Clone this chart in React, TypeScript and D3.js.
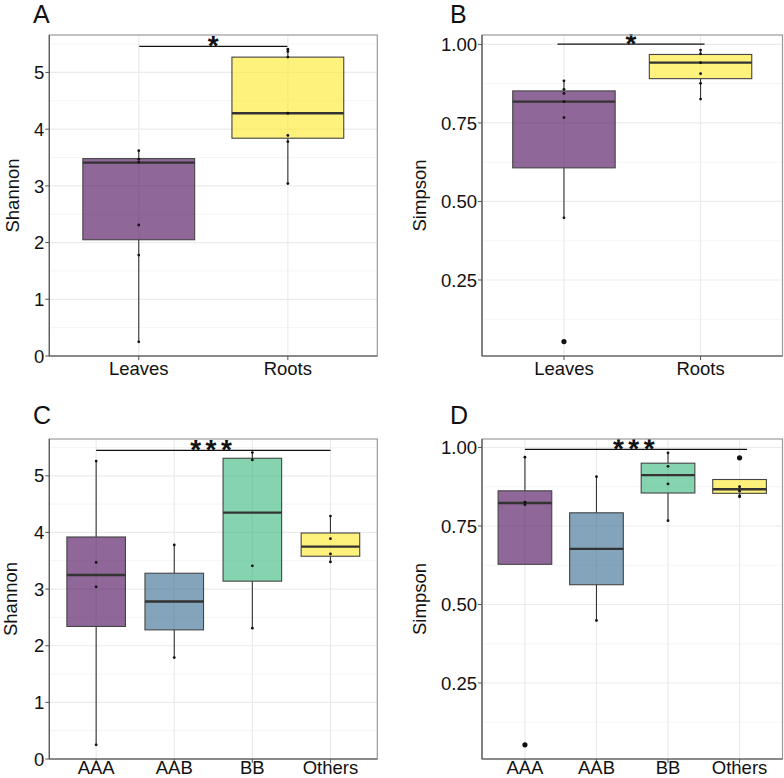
import React from "react";
import * as d3 from "d3";

// ---------- Data ----------
const tissueCats = ["Leaves", "Roots"];
const genomeCats = ["AAA", "AAB", "BB", "Others"];

// Panel A: Shannon by tissue  [q1, median, q3, whiskerLow, whiskerHigh]
const shannonTissueStats = [
  [2.05, 3.41, 3.48, 0.25, 3.62],
  [3.84, 4.28, 5.27, 3.04, 5.41],
];
const shannonTissuePoints = [
  [3.62, 3.47, 3.42, 2.31, 1.78, 0.25],
  [5.41, 5.37, 5.27, 4.28, 3.89, 3.78, 3.04],
];
const shannonTissueOutliers: number[][] = [[], []];

// Panel B: Simpson by tissue
const simpsonTissueStats = [
  [0.607, 0.818, 0.852, 0.448, 0.886],
  [0.891, 0.942, 0.968, 0.826, 0.982],
];
const simpsonTissuePoints = [
  [0.884, 0.857, 0.844, 0.818, 0.767, 0.448],
  [0.982, 0.97, 0.942, 0.907, 0.876, 0.826],
];
const simpsonTissueOutliers = [[0.054], []];

// Panel C: Shannon by genome group
const shannonGenomeStats = [
  [2.34, 3.25, 3.92, 0.25, 5.26],
  [2.28, 2.78, 3.28, 1.79, 3.78],
  [3.14, 4.35, 5.31, 2.31, 5.41],
  [3.58, 3.75, 3.99, 3.48, 4.29],
];
const shannonGenomePoints = [
  [5.26, 3.47, 3.04, 0.25],
  [3.78, 1.79],
  [5.41, 5.28, 3.41, 2.31],
  [4.29, 3.89, 3.62, 3.48],
];
const shannonGenomeOutliers: number[][] = [[], [], [], []];

// Panel D: Simpson by genome group
const simpsonGenomeStats = [
  [0.628, 0.823, 0.862, 0.628, 0.969],
  [0.563, 0.677, 0.792, 0.449, 0.907],
  [0.855, 0.912, 0.95, 0.767, 0.983],
  [0.854, 0.867, 0.898, 0.843, 0.898],
];
const simpsonGenomePoints = [
  [0.969, 0.826, 0.818],
  [0.907, 0.449],
  [0.983, 0.94, 0.884, 0.767],
  [0.875, 0.861, 0.846, 0.843],
];
const simpsonGenomeOutliers = [[0.053], [], [], [0.967]];

const shannonTicks = [0, 1, 2, 3, 4, 5];
const shannonMinor = [0.5, 1.5, 2.5, 3.5, 4.5, 5.5];
const simpsonTicks = [0.25, 0.5, 0.75, 1.0];
const simpsonMinor = [0.125, 0.375, 0.625, 0.875];

const colors2 = ["#440154", "#FDE725"];
const colors4 = ["#440154", "#31688E", "#35B779", "#FDE725"];

const FONT = "'Liberation Sans', Arial, Helvetica, sans-serif";

type PanelProps = {
  label: string;
  labelX: number;
  labelY: number;
  x0: number;
  x1: number;
  y0: number;
  y1: number;
  domain: [number, number];
  cats: string[];
  stats: number[][];
  points: number[][];
  outliers: number[][];
  colors: string[];
  ticks: number[];
  minor: number[];
  tickFmt: (v: number) => string;
  yTitle: string;
  titleX: number;
  xLabelDy: number;
  sig: { from: number; to: number; y: number; text: string; offL: number; offR: number };
};

function Panel(p: PanelProps) {
  const x = d3.scalePoint<string>().domain(p.cats).range([p.x0, p.x1]).padding(0.6);
  const y = d3.scaleLinear().domain(p.domain).range([p.y1, p.y0]);
  const step = x.step();
  const bw = step * 0.75;
  const gridC = "#ebebeb";
  const sigX1 = (x(p.cats[p.sig.from]) as number) + p.sig.offL;
  const sigX2 = (x(p.cats[p.sig.to]) as number) + p.sig.offR;
  return (
    <g>
      <rect x={p.x0} y={p.y0} width={p.x1 - p.x0} height={p.y1 - p.y0} fill="#fff" />
      {p.minor.map((v) => (
        <line key={"mi" + v} x1={p.x0} x2={p.x1} y1={y(v)} y2={y(v)} stroke="#f3f3f3" strokeWidth={0.8} />
      ))}
      {p.ticks.map((v) => (
        <line key={"ma" + v} x1={p.x0} x2={p.x1} y1={y(v)} y2={y(v)} stroke={gridC} strokeWidth={1.2} />
      ))}
      {p.cats.map((c) => (
        <line key={"vx" + c} x1={x(c)} x2={x(c)} y1={p.y0} y2={p.y1} stroke={gridC} strokeWidth={1.2} />
      ))}
      {p.cats.map((c, i) => {
        const cx = x(c) as number;
        const [q1, med, q3, lo, hi] = p.stats[i];
        return (
          <g key={"b" + c}>
            <line x1={cx} x2={cx} y1={y(q3)} y2={y(hi)} stroke="#333" strokeWidth={1.1} />
            <line x1={cx} x2={cx} y1={y(q1)} y2={y(lo)} stroke="#333" strokeWidth={1.1} />
            <rect
              x={cx - bw / 2}
              y={y(q3)}
              width={bw}
              height={y(q1) - y(q3)}
              fill={p.colors[i]}
              fillOpacity={0.6}
              stroke="#444"
              strokeWidth={1.1}
            />
            <line x1={cx - bw / 2} x2={cx + bw / 2} y1={y(med)} y2={y(med)} stroke="#333" strokeWidth={2.4} />
            {p.points[i].map((v, j) => (
              <circle key={"p" + j} cx={cx} cy={y(v)} r={1.4} fill="#111" />
            ))}
            {p.outliers[i].map((v, j) => (
              <circle key={"o" + j} cx={cx} cy={y(v)} r={2.6} fill="#111" />
            ))}
          </g>
        );
      })}
      <line x1={sigX1} x2={sigX2} y1={y(p.sig.y)} y2={y(p.sig.y)} stroke="#111" strokeWidth={1.2} />
      <text
        x={(sigX1 + sigX2) / 2}
        y={y(p.sig.y) + 8.5}
        textAnchor="middle"
        fontFamily={FONT}
        fontWeight="bold"
        fontSize={28}
        letterSpacing={p.sig.text.length > 1 ? 4.5 : 0}
        fill="#111"
      >
        {p.sig.text}
      </text>
      {/* panel border */}
      <rect x={p.x0} y={p.y0} width={p.x1 - p.x0} height={p.y1 - p.y0} fill="none" stroke="#9a9a9a" strokeWidth={1.2} />
      <line x1={p.x0} x2={p.x0} y1={p.y0} y2={p.y1} stroke="#555" strokeWidth={1.2} />
      <line x1={p.x0} x2={p.x1} y1={p.y1} y2={p.y1} stroke="#555" strokeWidth={1.2} />
      {/* y ticks */}
      {p.ticks.map((v) => (
        <g key={"yt" + v}>
          <line x1={p.x0 - 4} x2={p.x0} y1={y(v)} y2={y(v)} stroke="#555" strokeWidth={1} />
          <text x={p.x0 - 5} y={y(v)} dy="0.36em" textAnchor="end" fontFamily={FONT} fontSize={18.5} fill="#111">
            {p.tickFmt(v)}
          </text>
        </g>
      ))}
      {/* x ticks */}
      {p.cats.map((c) => (
        <g key={"xt" + c}>
          <line x1={x(c)} x2={x(c)} y1={p.y1} y2={p.y1 + 4} stroke="#555" strokeWidth={1} />
          <text x={x(c)} y={p.y1 + p.xLabelDy} textAnchor="middle" fontFamily={FONT} fontSize={18.5} fill="#111">
            {c}
          </text>
        </g>
      ))}
      <text
        transform={`translate(${p.titleX},${(p.y0 + p.y1) / 2}) rotate(-90)`}
        textAnchor="middle"
        dy="0.36em"
        fontFamily={FONT}
        fontSize={18.5}
        fill="#111"
      >
        {p.yTitle}
      </text>
      <text x={p.labelX} y={p.labelY} fontFamily={FONT} fontSize={25} fill="#111">
        {p.label}
      </text>
    </g>
  );
}

export default function App() {
  return (
    <svg
      width={784}
      height={778}
      style={{ position: "absolute", left: 0, top: 0, background: "#fff" }}
    >
      <rect width={784} height={778} fill="#fff" />
      <Panel
        label="A"
        labelX={33}
        labelY={22.5}
        x0={49.3}
        x1={377.3}
        y0={35}
        y1={356}
        domain={[0, 5.66]}
        cats={tissueCats}
        stats={shannonTissueStats}
        points={shannonTissuePoints}
        outliers={shannonTissueOutliers}
        colors={colors2}
        ticks={shannonTicks}
        minor={shannonMinor}
        tickFmt={(v) => String(v)}
        yTitle="Shannon"
        titleX={12.5}
        xLabelDy={18.5}
        sig={{ from: 0, to: 1, y: 5.46, text: "*", offL: 0.5, offR: -0.5 }}
      />
      <Panel
        label="B"
        labelX={450}
        labelY={22.5}
        x0={482}
        x1={782.5}
        y0={35}
        y1={356}
        domain={[0.008, 1.03]}
        cats={tissueCats}
        stats={simpsonTissueStats}
        points={simpsonTissuePoints}
        outliers={simpsonTissueOutliers}
        colors={colors2}
        ticks={simpsonTicks}
        minor={simpsonMinor}
        tickFmt={(v) => d3.format(".2f")(v)}
        yTitle="Simpson"
        titleX={419.5}
        xLabelDy={18.5}
        sig={{ from: 0, to: 1, y: 1.001, text: "*", offL: -6.5, offR: 4 }}
      />
      <Panel
        label="C"
        labelX={33}
        labelY={424}
        x0={49.3}
        x1={377.3}
        y0={439}
        y1={759}
        domain={[0, 5.65]}
        cats={genomeCats}
        stats={shannonGenomeStats}
        points={shannonGenomePoints}
        outliers={shannonGenomeOutliers}
        colors={colors4}
        ticks={shannonTicks}
        minor={shannonMinor}
        tickFmt={(v) => String(v)}
        yTitle="Shannon"
        titleX={10}
        xLabelDy={15}
        sig={{ from: 0, to: 3, y: 5.45, text: "***", offL: 0, offR: 0 }}
      />
      <Panel
        label="D"
        labelX={450}
        labelY={424}
        x0={482}
        x1={782.5}
        y0={439}
        y1={759}
        domain={[0.008, 1.027]}
        cats={genomeCats}
        stats={simpsonGenomeStats}
        points={simpsonGenomePoints}
        outliers={simpsonGenomeOutliers}
        colors={colors4}
        ticks={simpsonTicks}
        minor={simpsonMinor}
        tickFmt={(v) => d3.format(".2f")(v)}
        yTitle="Simpson"
        titleX={419.5}
        xLabelDy={15}
        sig={{ from: 0, to: 3, y: 0.994, text: "***", offL: 0, offR: 7.5 }}
      />
    </svg>
  );
}
